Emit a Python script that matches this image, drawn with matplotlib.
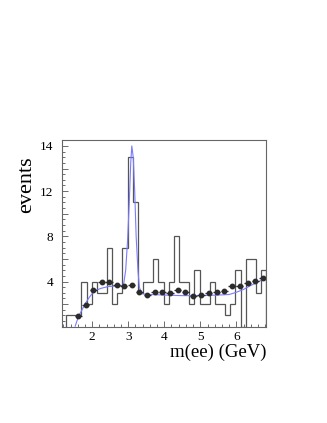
import numpy as np
import matplotlib
matplotlib.use("Agg")
import matplotlib.pyplot as plt
from matplotlib.ticker import MultipleLocator, FuncFormatter

plt.rcParams['font.family'] = ['Liberation Serif', 'DejaVu Serif']

# histogram of m(ee), 39 bins
counts = [1, 1, 1, 4, 2, 4, 3, 3, 7, 2, 3, 7, 15, 11, 3, 4, 4, 6, 4, 2,
          4, 8, 4, 4, 2, 5, 2, 2, 4, 2, 2, 1, 2, 5, 0, 6, 6, 3, 5]
bin_lo = 1.275
bin_hi = 6.83

# background points (dots with horizontal bars)
mass_pts = [1.62, 1.82, 2.03, 2.26, 2.47, 2.68, 2.88, 3.10, 3.31, 3.53,
            3.74, 3.95, 4.16, 4.37, 4.58, 4.81, 5.02, 5.23, 5.45, 5.66,
            5.88, 6.09, 6.31, 6.52, 6.73]
mass_evts = [0.92, 1.9, 3.25, 3.96, 3.96, 3.72, 3.58, 3.67, 3.05, 2.78,
             3.08, 3.08, 2.96, 3.22, 3.1, 2.69, 2.84, 3.02, 3.05, 3.16,
             3.58, 3.58, 3.87, 4.02, 4.32]

# fit curve
fit_x = [1.53, 1.62, 1.72, 1.82, 1.92, 2.02, 2.13, 2.25, 2.44, 2.63, 2.83,
         2.88, 2.93, 2.98, 3.03, 3.07, 3.10, 3.14, 3.18, 3.22, 3.27, 3.31,
         3.36, 3.41, 3.6, 4.0, 4.5, 5.0, 5.5, 5.8, 6.0, 6.2, 6.4, 6.6, 6.83]
fit_y = [0.05, 0.9, 1.5, 2.1, 2.6, 3.0, 3.25, 3.4, 3.55, 3.6, 3.65,
         3.9, 5.0, 7.5, 11.0, 14.5, 16.0, 15.0, 12.0, 8.0, 5.0, 3.5,
         3.0, 2.9, 2.85, 2.8, 2.75, 2.75, 2.8, 2.85, 3.05, 3.3, 3.65, 3.95, 4.38]

ylabels = {4: '4', 8: '8', 12: '12', 16: '14'}


def main():
    fig = plt.figure(figsize=(3.27, 4.23), dpi=100)
    ax = fig.add_axes([61.5 / 327, 96.3 / 423, 204.8 / 327, 186.4 / 423])

    edges = np.linspace(bin_lo, bin_hi, len(counts) + 1)
    ax.stairs(counts, edges, color='#555555', lw=0.9)
    ax.plot(fit_x, fit_y, color='#7b7bff', lw=0.8)
    ax.errorbar(mass_pts, mass_evts, xerr=0.1, fmt='o', ms=3.2,
                color='#2b2b2b', elinewidth=0.9, capsize=0)

    ax.set_xlim(1.15, 6.83)
    ax.set_ylim(0, 16.5)

    ax.xaxis.set_major_locator(MultipleLocator(1))
    ax.xaxis.set_minor_locator(MultipleLocator(0.2))
    ax.yaxis.set_major_locator(MultipleLocator(2))
    ax.yaxis.set_minor_locator(MultipleLocator(0.5))
    ax.yaxis.set_major_formatter(FuncFormatter(lambda v, p: ylabels.get(int(round(v)), '')))

    ax.tick_params(which='both', direction='in', top=False, right=False,
                   color='#555555', width=0.6, labelsize=9.5)
    ax.tick_params(which='major', length=4)
    ax.tick_params(which='minor', length=2)
    ax.tick_params(axis='y', pad=6)
    ax.tick_params(axis='x', pad=3)
    for s in ax.spines.values():
        s.set_color('#666666')
        s.set_linewidth(0.8)

    ax.text(-0.17, 0.76, 'events', rotation=90, transform=ax.transAxes,
            ha='center', va='center', fontsize=16)
    ax.text(1.003, -0.136, 'm(ee) (GeV)', transform=ax.transAxes,
            ha='right', va='center', fontsize=13.5)

    fig.savefig('out.png', dpi=100)


if __name__ == "__main__":
    main()
